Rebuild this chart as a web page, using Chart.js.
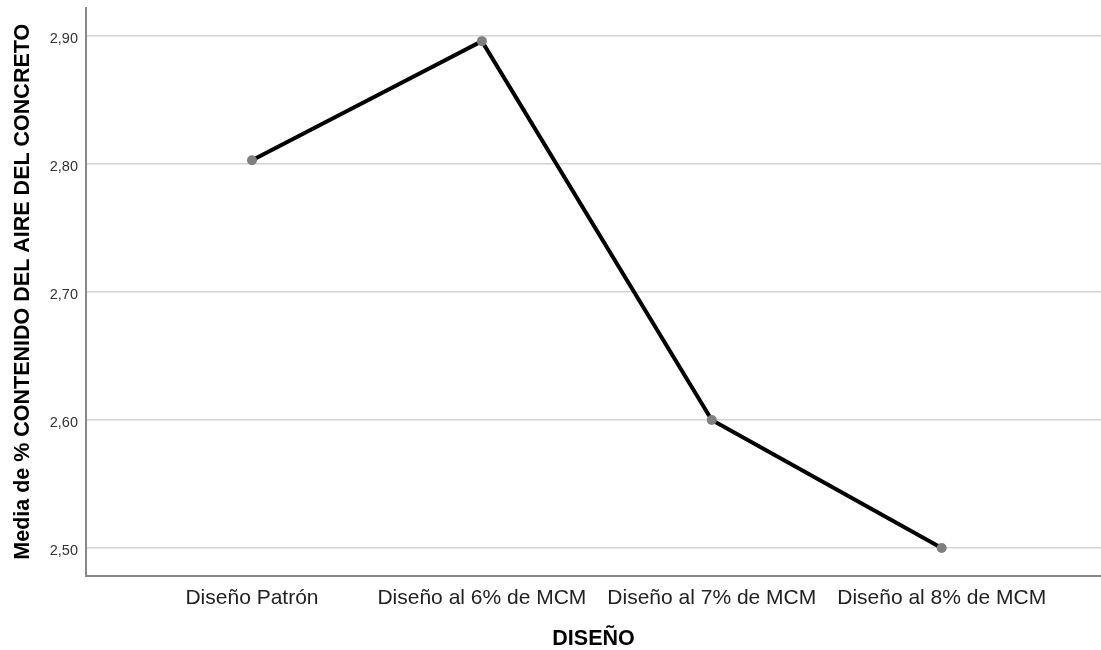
<!DOCTYPE html>
<html>
<head>
<meta charset="utf-8">
<script src="https://cdn.jsdelivr.net/npm/chart.js@4/dist/chart.umd.min.js"></script>
<style>
  html, body { margin: 0; padding: 0; background: #ffffff; }
  #wrap { width: 1101px; height: 650px; }
</style>
</head>
<body>
<div id="wrap"><canvas id="c" width="1101" height="650"></canvas></div>
<script>
// ---- Data ----
const categories = ["Diseño Patrón", "Diseño al 6% de MCM", "Diseño al 7% de MCM", "Diseño al 8% de MCM"];
const categoryPositions = [1, 2, 3, 4];
const meanValues = [2.803, 2.896, 2.600, 2.500];
const yTickValues = [2.50, 2.60, 2.70, 2.80, 2.90];
const yAxisTitle = "Media de % CONTENIDO DEL AIRE DEL CONCRETO";
const xAxisTitle = "DISEÑO";

const points = categoryPositions.map((x, i) => ({ x: x, y: meanValues[i] }));

new Chart(document.getElementById('c'), {
  type: 'line',
  data: {
    datasets: [{
      data: points,
      borderColor: '#000000',
      borderWidth: 4,
      tension: 0,
      pointRadius: 5,
      pointBackgroundColor: '#7f7f7f',
      pointBorderColor: '#7f7f7f',
      pointBorderWidth: 0,
      fill: false
    }]
  },
  options: {
    responsive: false,
    animation: false,
    events: [],
    layout: { autoPadding: false, padding: { top: 8, right: 0, bottom: 0, left: 0 } },
    plugins: { legend: { display: false }, tooltip: { enabled: false } },
    scales: {
      x: {
        type: 'linear',
        min: 0.278,
        max: 4.693,
        afterBuildTicks: (s) => { s.ticks = categoryPositions.map(v => ({ value: v })); },
        afterFit: (s) => { s.height = 74.5; s.paddingLeft = 0; s.paddingRight = 0; },
        grid: { display: false, drawTicks: false },
        border: { display: true, color: '#888888', width: 2 },
        ticks: {
          autoSkip: false,
          maxRotation: 0,
          padding: 10,
          color: '#222222',
          font: { family: 'Liberation Sans, Arial, sans-serif', size: 21 },
          callback: (v) => { const i = categoryPositions.indexOf(v); return i >= 0 ? categories[i] : ''; }
        },
        title: {
          display: true,
          text: xAxisTitle,
          color: '#000000',
          padding: { top: 0, bottom: 0 },
          font: { family: 'Liberation Sans, Arial, sans-serif', size: 21.5, weight: 'bold', lineHeight: 1 }
        }
      },
      y: {
        type: 'linear',
        min: 2.4785,
        max: 2.9219,
        afterBuildTicks: (s) => { s.ticks = yTickValues.map(v => ({ value: v })); },
        afterFit: (s) => { s.width = 86; s.paddingTop = 0; s.paddingBottom = 0; },
        grid: { display: true, color: '#d4d4d4', lineWidth: 1.5, drawTicks: false },
        border: { display: true, color: '#888888', width: 2 },
        ticks: {
          padding: 8,
          labelOffset: 3,
          color: '#333333',
          font: { family: 'Liberation Sans, Arial, sans-serif', size: 14.5 },
          callback: (v) => Number(v).toFixed(2).replace('.', ',')
        },
        title: {
          display: true,
          text: yAxisTitle,
          color: '#000000',
          padding: { top: 12, bottom: 0 },
          font: { family: 'Liberation Sans, Arial, sans-serif', size: 21.5, weight: 'bold', lineHeight: 1 }
        }
      }
    }
  }
});
</script>
</body>
</html>
